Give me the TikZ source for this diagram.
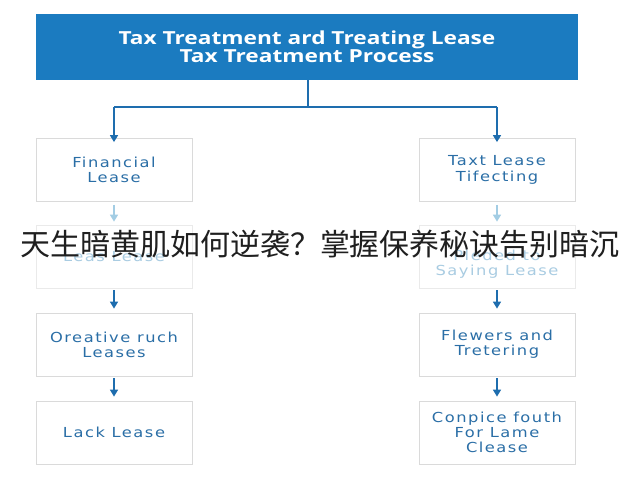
\documentclass[tikz,border=0pt]{standalone}
\usepackage{fontspec}
\usetikzlibrary{arrows.meta}
\setmainfont{DejaVu Sans}
\newfontfamily\headfont{Open Sans}[FakeStretch=1.26]
\newfontfamily\boxfont{DejaVu Sans}[FakeStretch=1.18,LetterSpace=11]
\newfontfamily\cjk{Noto Sans CJK SC}
\definecolor{hdrblue}{HTML}{1B7BC0}
\definecolor{txtblue}{HTML}{2A6EA6}
\definecolor{arrblue}{HTML}{1E6DAE}
\definecolor{boxline}{HTML}{DADADA}
\definecolor{fadetxt}{HTML}{A9CCE2}
\definecolor{fadearr}{HTML}{A3CDE4}
\definecolor{fadeline}{HTML}{EAEAEA}
\begin{document}
\begin{tikzpicture}[x=1pt,y=-1pt,
  header/.style={fill=hdrblue,draw=none,minimum width=542pt,minimum height=66pt,
     text=white,align=center,inner sep=0pt,
     font=\headfont\bfseries\fontsize{18}{18}\selectfont},
  stepbox/.style={draw=boxline,line width=0.8pt,fill=white,minimum width=156pt,
     minimum height=63pt,inner sep=0pt,align=center,text=txtblue,
     font=\boxfont\fontsize{13.8}{15.2}\selectfont},
  fadebox/.style={stepbox,draw=fadeline,text=fadetxt},
  link/.style={draw=arrblue,line width=1.5pt,-{Triangle[width=8pt,length=7pt]}},
  fadelink/.style={link,draw=fadearr},
  plainlink/.style={draw=arrblue,line width=1.5pt},
  caption/.style={text=black!88,inner sep=0pt,font=\cjk\fontsize{30}{30}\selectfont}]
\useasboundingbox[fill=white] (0,0) rectangle (640,480);
\node[header] (h) at (307,47) {Tax Treatment ard Treating Lease\\Tax Treatment Process};
\node[stepbox] (l1) at (114,170) {Financial\\Lease};
\node[fadebox] (l2) at (114,256.5) {Leas Lease};
\node[stepbox] (l3) at (114,344.5) {Oreative ruch\\Leases};
\node[stepbox] (l4) at (114,432.5) {Lack Lease};
\node[stepbox] (r1) at (497,170) {Taxt Lease\\Tifecting};
\node[fadebox] (r2) at (497,256.5) {\strut\\Pleded to\\Saying Lease};
\node[stepbox] (r3) at (497,344.5) {Flewers and\\Tretering};
\node[stepbox] (r4) at (497,432.5) {Conpice fouth\\For Lame\\Clease};
\coordinate (j) at (308,107);
\coordinate (jl) at (114,107);
\coordinate (jr) at (497,107);
\draw[plainlink] (h.south -| j) -- (j);
\draw[plainlink] (jl) -- (jr);
\draw[link] (jl) -- ([yshift=-4pt]l1.north);
\draw[link] (jr) -- ([yshift=-4pt]r1.north);
\draw[fadelink,shorten <=3pt,shorten >=3pt] (l1) -- (l2);
\draw[fadelink,shorten <=3pt,shorten >=3pt] (r1) -- (r2);
\draw[link,shorten <=2pt,shorten >=4pt] (l2) -- (l3);
\draw[link,shorten <=2pt,shorten >=4pt] (r2) -- (r3);
\draw[link,shorten <=2pt,shorten >=4pt] (l3) -- (l4);
\draw[link,shorten <=2pt,shorten >=4pt] (r3) -- (r4);
\node[caption] (cap) at (320,244) {天生暗黄肌如何逆袭？掌握保养秘诀告别暗沉};
\end{tikzpicture}
\end{document}
